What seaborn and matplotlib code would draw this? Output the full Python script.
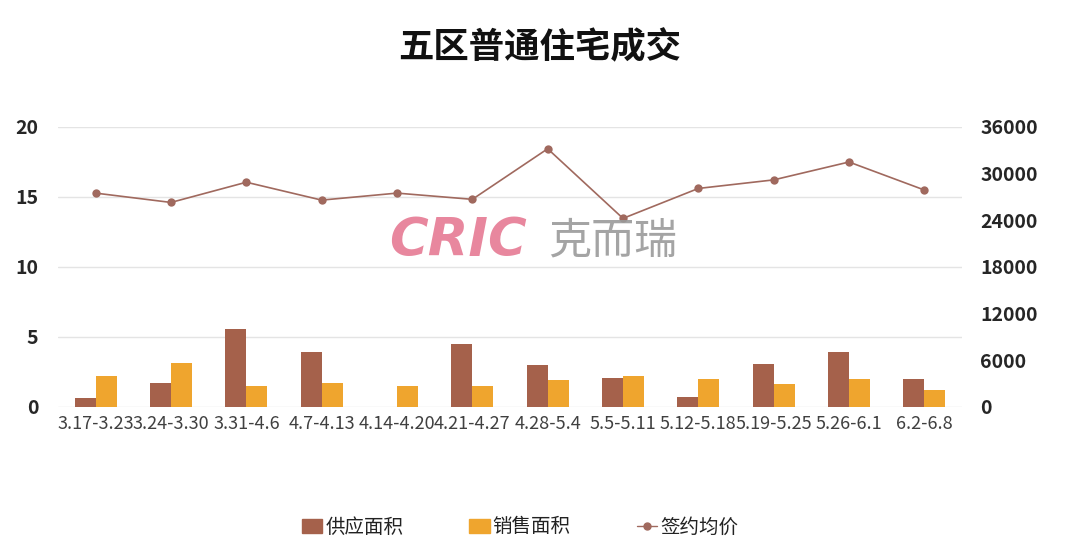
import pandas as pd
import matplotlib
matplotlib.use('Agg')
import matplotlib.pyplot as plt
import seaborn as sns

# ========= Data =========
periods = ['3.17-3.23', '3.24-3.30', '3.31-4.6', '4.7-4.13', '4.14-4.20', '4.21-4.27',
           '4.28-5.4', '5.5-5.11', '5.12-5.18', '5.19-5.25', '5.26-6.1', '6.2-6.8']
supply_area = [0.65, 1.7, 5.55, 3.9, 0, 4.5, 3.0, 2.1, 0.72, 3.05, 3.9, 2.02]
sales_area = [2.2, 3.15, 1.48, 1.7, 1.48, 1.52, 1.95, 2.18, 2.02, 1.65, 2.02, 1.2]
avg_price = [27500, 26300, 28900, 26600, 27500, 26700, 33200, 24250, 28100, 29200, 31500, 27900]

bar_labels = ['供应面积', '销售面积']
line_label = '签约均价'

bars = pd.DataFrame({'period': periods * 2,
                     'value': supply_area + sales_area,
                     'kind': [bar_labels[0]] * 12 + [bar_labels[1]] * 12})
price = pd.DataFrame({'period': periods, 'price': avg_price})

# ========= Style =========
sns.set_style('white')
plt.rcParams['font.family'] = ['Noto Sans CJK SC', 'DejaVu Sans']

supply_color = '#A5614B'
sales_color = '#EFA52E'
line_color = '#A0695E'

fig = plt.figure(figsize=(10.8, 5.51), dpi=100)
ax = fig.add_axes([58 / 1080, 1 - 407 / 551, (962 - 58) / 1080, 280 / 551])

# bars: supply / sales area on the left axis
sns.barplot(data=bars, x='period', y='value', hue='kind', order=periods,
            palette=[supply_color, sales_color], width=0.56, saturation=1,
            linewidth=0, ax=ax, legend=False)
ax.set_ylim(0, 20)
ax.set_yticks([0, 5, 10, 15, 20])
ax.set_xlim(-0.5, len(periods) - 0.5)
ax.grid(axis='y', color='#E4E4E4', linewidth=1)
ax.set_axisbelow(True)
ax.set_xlabel('')
ax.set_ylabel('')
ax.tick_params(axis='y', length=0, labelsize=14, pad=14)
ax.tick_params(axis='x', length=0, labelsize=13, labelcolor='#404040', pad=6)
for lbl in ax.get_yticklabels():
    lbl.set_fontweight('bold')
for s in ax.spines.values():
    s.set_visible(False)

# line: average price on the right axis
ax2 = ax.twinx()
sns.lineplot(data=price, x='period', y='price', sort=False, color=line_color,
             linewidth=1.2, marker='o', markersize=6, markeredgewidth=0, ax=ax2)
ax2.set_ylim(0, 36000)
ax2.set_yticks(range(0, 36001, 6000))
ax2.set_ylabel('')
ax2.tick_params(axis='y', length=0, labelsize=14, pad=13)
for lbl in ax2.get_yticklabels():
    lbl.set_fontweight('bold')
for s in ax2.spines.values():
    s.set_visible(False)

# watermark
fig.text(458 / 1080, 1 - 241 / 551, 'CRIC', fontsize=38, fontweight='bold', style='italic',
         color='#E8879E', ha='center', va='center', family=['DejaVu Sans'])
fig.text(613 / 1080, 1 - 241 / 551, '克而瑞', fontsize=31, color='#9A9A9A',
         ha='center', va='center', alpha=0.9)

fig.suptitle('五区普通住宅成交', x=0.5, y=1 - 48 / 551, va='center',
             fontsize=25.5, fontweight='bold', color='#111111')

handles = [plt.Rectangle((0, 0), 1, 1, color=supply_color),
           plt.Rectangle((0, 0), 1, 1, color=sales_color),
           plt.Line2D([], [], color=line_color, marker='o', markersize=5, linewidth=1)]
fig.legend(handles, bar_labels + [line_label], loc='center', ncol=3,
           bbox_to_anchor=(520 / 1080, 1 - 527 / 551), frameon=False, fontsize=14,
           handlelength=1.05, handletextpad=0.15, columnspacing=3.4,
           labelcolor='#222222')

fig.savefig('out.png', dpi=100)
